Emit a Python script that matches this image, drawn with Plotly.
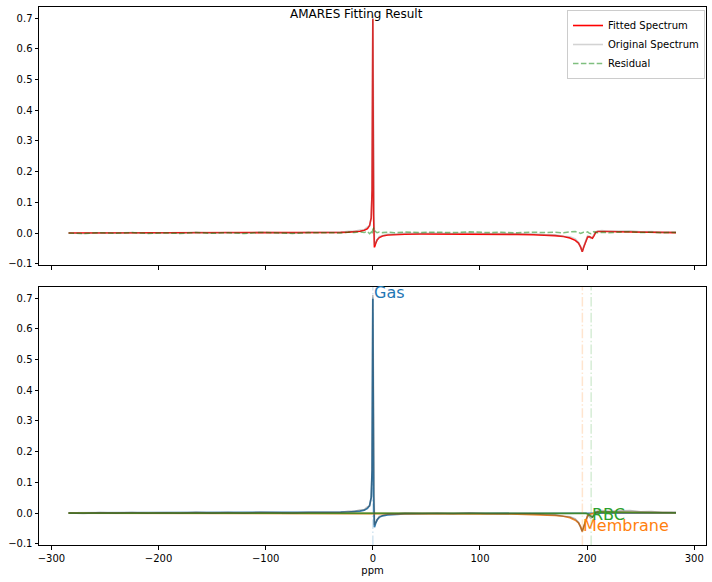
import plotly.graph_objects as go

# ---------------- data ----------------
ppm = [-284, -270, -255, -240, -225, -210, -195, -180, -165, -150, -135, -120, -105, -90, -75, -60,
       -48, -38, -30, -23, -17, -12, -8, -5, -3, -1.5, -0.7,
       0,
       0.7, 1.5, 2.5, 4, 6, 9, 14, 20, 30, 45,
       60, 75, 90, 105, 120, 135, 150, 160, 170, 178, 184, 189, 192, 194,
       195.5, 197, 199, 200.5, 202, 203.5, 205, 206.5, 208, 210,
       214, 220, 230, 240, 250, 260, 270, 283]

fitted = [0.0002, 0.0002, 0.0003, 0.0003, 0.0003, 0.0004, 0.0004, 0.0004, 0.0004, 0.0005, 0.0006, 0.0007, 0.0008, 0.0008, 0.0010, 0.0012,
          0.0015, 0.0019, 0.0023, 0.0030, 0.0041, 0.0060, 0.0090, 0.0145, 0.0245, 0.0495, 0.1395,
          0.6975,
          0.0595, -0.0465, -0.0355, -0.0226, -0.0146, -0.0096, -0.0064, -0.0049, -0.0038, -0.0031,
          -0.0029, -0.0028, -0.0029, -0.0032, -0.0036, -0.0042, -0.0052, -0.0064, -0.0083, -0.0113, -0.0158, -0.0238, -0.0327, -0.0457,
          -0.0607, -0.0447, -0.0217, -0.0127, -0.0117, -0.0152, -0.0167, -0.0082, 0.0023, 0.0053,
          0.0056, 0.0051, 0.0041, 0.0033, 0.0027, 0.0022, 0.0018, 0.0016]

original = [0.0002, -0.0013, 0.0013, -0.0002, 0.0018, -0.0006, 0.0009, -0.0008, 0.0022, -0.0003, 0.0018, -0.0008, 0.0028, 0.0013, 0.0000, 0.0027,
            0.0025, 0.0044, 0.0028, 0.0060, 0.0056, 0.0100, 0.0110, 0.0200, 0.0225, 0.0525, 0.1355,
            0.7095,
            0.0745, -0.0385, -0.0315, -0.0216, -0.0111, -0.0081, -0.0034, -0.0039, -0.0003, -0.0011,
            0.0001, -0.0013, 0.0011, -0.0012, -0.0011, -0.0032, -0.0022, -0.0049, -0.0058, -0.0103, -0.0118, -0.0188, -0.0307, -0.0467,
            -0.0597, -0.0417, -0.0197, -0.0087, -0.0117, -0.0172, -0.0137, -0.0032, 0.0043, 0.0063,
            0.0081, 0.0061, 0.0071, 0.0078, 0.0042, 0.0052, 0.0028, 0.0036]

residual = [0.0000, -0.0015, 0.0010, -0.0005, 0.0015, -0.0010, 0.0005, -0.0012, 0.0018, -0.0008, 0.0012, -0.0015, 0.0020, 0.0005, -0.0010, 0.0015,
            0.0010, 0.0025, 0.0005, 0.0030, 0.0015, 0.0040, 0.0020, 0.0055, -0.0020, 0.0030, -0.0040,
            0.0120,
            0.0150, 0.0080, 0.0040, 0.0010, 0.0035, 0.0015, 0.0030, 0.0010, 0.0035, 0.0020,
            0.0030, 0.0015, 0.0040, 0.0020, 0.0025, 0.0010, 0.0030, 0.0015, 0.0025, 0.0010, 0.0040, 0.0050, 0.0020, -0.0010,
            0.0010, 0.0030, 0.0020, 0.0040, 0.0000, -0.0020, 0.0030, 0.0050, 0.0020, 0.0010,
            0.0025, 0.0010, 0.0030, 0.0045, 0.0015, 0.0030, 0.0010, 0.0020]

gas = [0.0004, 0.0004, 0.0005, 0.0005, 0.0005, 0.0006, 0.0006, 0.0007, 0.0007, 0.0008, 0.0009, 0.0010, 0.0011, 0.0012, 0.0014, 0.0016,
       0.0019, 0.0023, 0.0028, 0.0035, 0.0046, 0.0065, 0.0095, 0.0150, 0.0250, 0.0500, 0.1400,
       0.6980,
       0.0600, -0.0460, -0.0350, -0.0220, -0.0140, -0.0090, -0.0058, -0.0042, -0.0030, -0.0022,
       -0.0018, -0.0015, -0.0013, -0.0012, -0.0011, -0.0010, -0.0009, -0.0009, -0.0008, -0.0008, -0.0008, -0.0008, -0.0007, -0.0007,
       -0.0007, -0.0007, -0.0007, -0.0007, -0.0007, -0.0007, -0.0007, -0.0007, -0.0007, -0.0007,
       -0.0007, -0.0006, -0.0006, -0.0006, -0.0005, -0.0005, -0.0005, -0.0004]

membrane = [-0.0002, -0.0002, -0.0002, -0.0002, -0.0002, -0.0002, -0.0002, -0.0003, -0.0003, -0.0003, -0.0003, -0.0003, -0.0003, -0.0004, -0.0004, -0.0004,
            -0.0004, -0.0004, -0.0005, -0.0005, -0.0005, -0.0005, -0.0005, -0.0005, -0.0005, -0.0005, -0.0005,
            -0.0005,
            -0.0005, -0.0005, -0.0005, -0.0006, -0.0006, -0.0006, -0.0006, -0.0007, -0.0008, -0.0009,
            -0.0011, -0.0013, -0.0016, -0.0020, -0.0025, -0.0032, -0.0043, -0.0055, -0.0075, -0.0105, -0.0150, -0.0230, -0.0320, -0.0450,
            -0.0600, -0.0440, -0.0200, -0.0090, -0.0045, -0.0035, -0.0030, -0.0005, 0.0020, 0.0030,
            0.0028, 0.0025, 0.0021, 0.0018, 0.0015, 0.0013, 0.0011, 0.0010]

rbc = [0.0000] * 16 + [0.0000] * 11 + [0.0000] + [0.0000] * 10 + \
      [0.0000, 0.0000, 0.0000, 0.0000, 0.0000, 0.0000, 0.0000, 0.0000, 0.0000, 0.0000, 0.0000, 0.0000, 0.0000, 0.0000] + \
      [0.0000, 0.0000, -0.0010, -0.0030, -0.0065, -0.0110, -0.0130, -0.0070, 0.0010, 0.0030] + \
      [0.0035, 0.0032, 0.0026, 0.0021, 0.0017, 0.0014, 0.0012, 0.0010]

component_names = ["Gas", "Membrane", "RBC"]
component_ppm = [0.0, 195.6, 203.8]
label_y = [0.717, -0.040, -0.005]

for arr in (fitted, original, residual, gas, membrane, rbc):
    assert len(arr) == len(ppm), len(arr)

x_ticks = [-300, -200, -100, 0, 100, 200, 300]
y_ticks = [-0.1, 0.0, 0.1, 0.2, 0.3, 0.4, 0.5, 0.6, 0.7]

# ---------------- styling ----------------
FONT = "DejaVu Sans"
TAB_BLUE = "#1f77b4"
TAB_ORANGE = "#ff7f0e"
TAB_GREEN = "#2ca02c"

fig = go.Figure()

# Top panel
fig.add_trace(go.Scatter(x=ppm, y=fitted, mode="lines", name="Fitted Spectrum",
                         line=dict(color="red", width=1.6), xaxis="x", yaxis="y"))
fig.add_trace(go.Scatter(x=ppm, y=original, mode="lines", name="Original Spectrum",
                         line=dict(color="rgba(128,128,128,0.35)", width=1.6), xaxis="x", yaxis="y"))
fig.add_trace(go.Scatter(x=ppm, y=residual, mode="lines", name="Residual",
                         line=dict(color="rgba(0,128,0,0.5)", width=1.5, dash="5.5px,2.4px"),
                         xaxis="x", yaxis="y"))

# Bottom panel
comp_colors = [TAB_BLUE, TAB_ORANGE, TAB_GREEN]
line_colors = ["#1f6fa8", "#f07a12", "#3f8a26"]
for name, vals, col in zip(component_names, [gas, membrane, rbc], line_colors):
    fig.add_trace(go.Scatter(x=ppm, y=vals, mode="lines", name=name, showlegend=False,
                             line=dict(color=col, width=1.7), opacity=0.9,
                             xaxis="x2", yaxis="y2"))
fig.add_trace(go.Scatter(x=ppm, y=original, mode="lines", name="Original", showlegend=False,
                         line=dict(color="rgba(60,60,60,0.35)", width=1.6), xaxis="x2", yaxis="y2"))

shapes = []
vcols = ["rgba(31,119,180,0.2)", "rgba(255,127,14,0.2)", "rgba(44,160,44,0.2)"]
for pos, col in zip(component_ppm, vcols):
    shapes.append(dict(type="line", xref="x2", yref="y2 domain", x0=pos, x1=pos, y0=0, y1=1,
                       line=dict(color=col, width=1.5, dash="9.6px,2.4px,1.5px,2.4px")))

annotations = []
for name, pos, ly, col in zip(component_names, component_ppm, label_y, comp_colors):
    annotations.append(dict(x=pos, y=ly, xref="x2", yref="y2", text=name, showarrow=False,
                            xanchor="left", yanchor="middle", borderpad=0,
                            font=dict(family=FONT, size=16, color=col)))
annotations.append(dict(x=0.4753, y=0.987, xref="paper", yref="paper", text="AMARES Fitting Result",
                        showarrow=False, xanchor="center", yanchor="middle",
                        font=dict(family=FONT, size=12, color="black")))

axis_common = dict(showline=True, linecolor="black", linewidth=1, mirror=True,
                   ticks="outside", ticklen=3.5, tickwidth=1, tickcolor="black",
                   showgrid=False, zeroline=False,
                   tickfont=dict(family=FONT, size=10, color="black"))

x_range = [-311.6, 311.0]
y_range = [-0.104, 0.736]

fig.update_layout(
    width=712, height=582,
    margin=dict(l=39, r=6, t=7, b=37),
    paper_bgcolor="white", plot_bgcolor="white",
    font=dict(family=FONT, size=10, color="black"),
    showlegend=True,
    legend=dict(x=0.9985, y=0.9944, xanchor="right", yanchor="top",
                bgcolor="rgba(255,255,255,0.8)", bordercolor="#cccccc", borderwidth=1,
                font=dict(family=FONT, size=10, color="black"),
                tracegroupgap=0, itemwidth=30),
    xaxis=dict(axis_common, domain=[0, 1], anchor="y", range=x_range,
               tickvals=x_ticks, showticklabels=False, matches="x2"),
    yaxis=dict(axis_common, domain=[0.5204, 1], anchor="x", range=y_range,
               tickvals=y_ticks, tickformat=".1f"),
    xaxis2=dict(axis_common, domain=[0, 1], anchor="y2", range=x_range,
                tickvals=x_ticks,
                title=dict(text="ppm", font=dict(family=FONT, size=10, color="black"), standoff=4)),
    yaxis2=dict(axis_common, domain=[0, 0.4796], anchor="x2", range=y_range,
                tickvals=y_ticks, tickformat=".1f"),
    shapes=shapes,
    annotations=annotations,
)

fig.write_html("out.html",
               config={"displayModeBar": False},
               post_script="document.body.style.margin='0';document.body.style.overflow='hidden';")
